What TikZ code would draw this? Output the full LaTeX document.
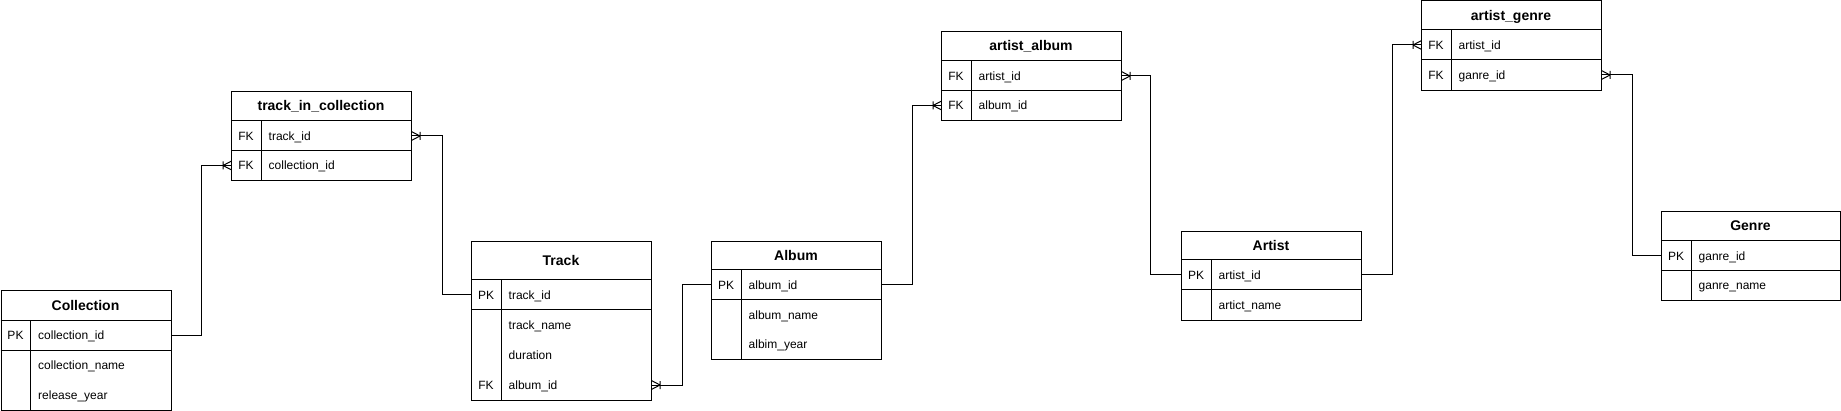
\documentclass[tikz,border=0pt]{standalone}
\usepackage{fontspec}
\setmainfont{Liberation Sans}
\tikzset{
  tbl/.style={draw, line width=1pt, inner sep=0pt, anchor=north west, rectangle},
  sep/.style={line width=1pt},
  ttl/.style={inner sep=0pt, font=\fontsize{14}{16}\selectfont\bfseries, text height=10pt, text depth=0pt},
  key/.style={inner sep=0pt, font=\fontsize{12}{14}\selectfont, text height=8.6pt, text depth=0pt},
  fld/.style={inner sep=0pt, anchor=west, font=\fontsize{12}{14}\selectfont, text height=8.6pt, text depth=0pt},
  conn/.style={line width=1pt},
  crow/.pic={\draw[line width=1pt] (-8,-4) -- (-8,4) (-8,0) -- (0,-4.2) (-8,0) -- (0,4.2);}
}
\begin{document}
\begin{tikzpicture}[x=1pt,y=-1pt]
\useasboundingbox (0,0) rectangle (1841,411);
\fill[white] (0,0) rectangle (1841,411);

% Collection
\begin{scope}[shift={(0.5,290.5)}]
\node[tbl, minimum width=170pt, minimum height=119pt] (coll) at (0,0) {};
\draw[sep] (0,30) -- (170,30) (0,60) -- (170,60) (30,30) -- (30,119);
\node[ttl] (coll-t) at (85,15) {Collection};
\node[key] (coll-k1) at (15,45) {PK};
\node[fld] (coll-id) at (37.5,45) {collection\_id};
\node[fld] (coll-name) at (37.5,75) {collection\_name};
\node[fld] (coll-year) at (37.5,104.5) {release\_year};
\end{scope}

% track_in_collection
\begin{scope}[shift={(231,91)}]
\node[tbl, minimum width=180pt, minimum height=89pt] (tic) at (0,0) {};
\draw[sep] (0,30) -- (180,30) (0,60) -- (180,60) (30,30) -- (30,89);
\node[ttl] (tic-t) at (90,15) {track\_in\_collection};
\node[key] (tic-k1) at (15,45) {FK};
\node[fld] (tic-tid) at (37.5,45) {track\_id};
\node[key] (tic-k2) at (15,74.5) {FK};
\node[fld] (tic-cid) at (37.5,74.5) {collection\_id};
\end{scope}

% Track
\begin{scope}[shift={(471,241)}]
\node[tbl, minimum width=180pt, minimum height=159pt] (track) at (0,0) {};
\draw[sep] (0,39) -- (180,39) (0,69) -- (180,69) (30,39) -- (30,159);
\node[ttl] (track-t) at (90,19.5) {Track};
\node[key] (track-k1) at (15,54) {PK};
\node[fld] (track-tid) at (37.5,54) {track\_id};
\node[fld] (track-name) at (37.5,84) {track\_name};
\node[fld] (track-dur) at (37.5,114) {duration};
\node[key] (track-k2) at (15,144) {FK};
\node[fld] (track-aid) at (37.5,144) {album\_id};
\end{scope}

% Album
\begin{scope}[shift={(711,241)}]
\node[tbl, minimum width=170pt, minimum height=118pt] (album) at (0,0) {};
\draw[sep] (0,29) -- (170,29) (0,59) -- (170,59) (30,29) -- (30,118);
\node[ttl] (album-t) at (85,14.5) {Album};
\node[key] (album-k1) at (15,44) {PK};
\node[fld] (album-aid) at (37.5,44) {album\_id};
\node[fld] (album-name) at (37.5,74) {album\_name};
\node[fld] (album-year) at (37.5,103.5) {albim\_year};
\end{scope}

% artist_album
\begin{scope}[shift={(941,31)}]
\node[tbl, minimum width=180pt, minimum height=89pt] (aa) at (0,0) {};
\draw[sep] (0,30) -- (180,30) (0,60) -- (180,60) (30,30) -- (30,89);
\node[ttl] (aa-t) at (90,15) {artist\_album};
\node[key] (aa-k1) at (15,45) {FK};
\node[fld] (aa-arid) at (37.5,45) {artist\_id};
\node[key] (aa-k2) at (15,74.5) {FK};
\node[fld] (aa-alid) at (37.5,74.5) {album\_id};
\end{scope}

% Artist
\begin{scope}[shift={(1181,231)}]
\node[tbl, minimum width=180pt, minimum height=89pt] (artist) at (0,0) {};
\draw[sep] (0,29) -- (180,29) (0,59) -- (180,59) (30,29) -- (30,89);
\node[ttl] (artist-t) at (90,14.5) {Artist};
\node[key] (artist-k1) at (15,44) {PK};
\node[fld] (artist-aid) at (37.5,44) {artist\_id};
\node[fld] (artist-name) at (37.5,74) {artict\_name};
\end{scope}

% artist_genre
\begin{scope}[shift={(1421,0.5)}]
\node[tbl, minimum width=180pt, minimum height=89.5pt] (ag) at (0,0) {};
\draw[sep] (0,29.5) -- (180,29.5) (0,59.5) -- (180,59.5) (30,29.5) -- (30,89.5);
\node[ttl] (ag-t) at (90,14.75) {artist\_genre};
\node[key] (ag-k1) at (15,44.5) {FK};
\node[fld] (ag-arid) at (37.5,44.5) {artist\_id};
\node[key] (ag-k2) at (15,74.5) {FK};
\node[fld] (ag-gid) at (37.5,74.5) {ganre\_id};
\end{scope}

% Genre
\begin{scope}[shift={(1661,211)}]
\node[tbl, minimum width=179pt, minimum height=89pt] (genre) at (0,0) {};
\draw[sep] (0,30) -- (179,30) (0,60) -- (179,60) (30,30) -- (30,89);
\node[ttl] (genre-t) at (89.5,15) {Genre};
\node[key] (genre-k1) at (15,45) {PK};
\node[fld] (genre-gid) at (37.5,45) {ganre\_id};
\node[fld] (genre-name) at (37.5,74.5) {ganre\_name};
\end{scope}

% connectors
\draw[conn] (coll.east |- coll-id) -- ++(30,0) |- (tic.west |- tic-cid);
\pic at (tic.west |- tic-cid) {crow};

\draw[conn] (tic.east |- tic-tid) -- ++(30,0) |- (track.west |- track-tid);
\pic[xscale=-1] at (tic.east |- tic-tid) {crow};

\draw[conn] (track.east |- track-aid) -- ++(30,0) |- (album.west |- album-aid);
\pic[xscale=-1] at (track.east |- track-aid) {crow};

\draw[conn] (album.east |- album-aid) -- ++(30,0) |- (aa.west |- aa-alid);
\pic at (aa.west |- aa-alid) {crow};

\draw[conn] (aa.east |- aa-arid) -- ++(28,0) |- (artist.west |- artist-aid);
\pic[xscale=-1] at (aa.east |- aa-arid) {crow};

\draw[conn] (artist.east |- artist-aid) -- ++(30,0) |- (ag.west |- ag-arid);
\pic at (ag.west |- ag-arid) {crow};

\draw[conn] (ag.east |- ag-gid) -- ++(30,0) |- (genre.west |- genre-gid);
\pic[xscale=-1] at (ag.east |- ag-gid) {crow};

\end{tikzpicture}
\end{document}
